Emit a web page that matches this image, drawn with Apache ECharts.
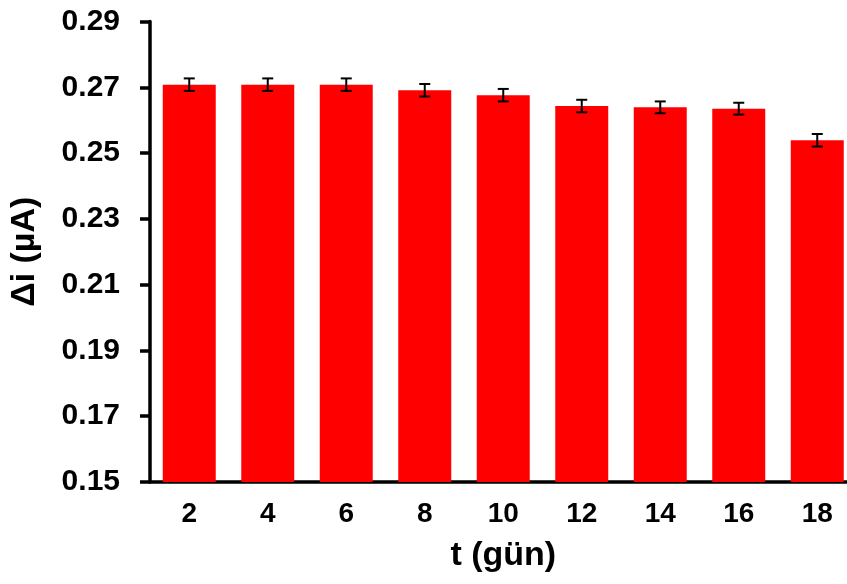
<!DOCTYPE html>
<html>
<head>
<meta charset="utf-8">
<script src="https://cdn.jsdelivr.net/npm/echarts@6/dist/echarts.min.js"></script>
<style>
  html, body { margin: 0; padding: 0; background: #fff; overflow: hidden; }
  /* plot area runs slightly past the right edge of the window */
  #chart { width: 860px; height: 584px; }
</style>
</head>
<body>
<div id="chart"></div>
<script>
// Storage time (days)
const days = ['2', '4', '6', '8', '10', '12', '14', '16', '18'];
// Peak current response Δi (µA)
const currents = [0.2708, 0.2708, 0.2708, 0.2691, 0.2676, 0.2643, 0.2639, 0.2635, 0.2539];
// Standard deviation for each day
const errors = [0.0019, 0.0019, 0.0019, 0.0019, 0.0019, 0.0019, 0.0018, 0.0018, 0.0019];
// Y axis range and step
const yMin = 0.15, yMax = 0.29, yStep = 0.02;

const FONT = '"Liberation Sans", Arial, sans-serif';

const chart = echarts.init(document.getElementById('chart'), null, { renderer: 'canvas' });

const errorData = days.map((d, i) => [i, currents[i] - errors[i], currents[i] + errors[i]]);

chart.setOption({
  animation: false,
  backgroundColor: '#ffffff',
  grid: { left: 150, top: 21.5, width: 706.5, height: 460.5, containLabel: false },
  xAxis: {
    type: 'category',
    data: days,
    name: 't (gün)',
    nameLocation: 'middle',
    nameGap: 57,
    nameTextStyle: { fontFamily: FONT, fontWeight: 'bold', fontSize: 34, color: '#000', verticalAlign: 'top' },
    axisLine: { lineStyle: { color: '#000', width: 3.5 } },
    axisTick: { show: false },
    axisLabel: { fontFamily: FONT, fontWeight: 'bold', fontSize: 28, color: '#000', margin: 18 },
    splitLine: { show: false }
  },
  yAxis: {
    type: 'value',
    min: yMin,
    max: yMax,
    interval: yStep,
    name: 'Δi (µA)',
    nameLocation: 'middle',
    nameGap: 108,
    nameTextStyle: { fontFamily: FONT, fontWeight: 'bold', fontSize: 34, color: '#000' },
    axisLine: { show: true, lineStyle: { color: '#000', width: 3.5 } },
    axisTick: { show: true, length: 10, inside: false, lineStyle: { color: '#000', width: 3.5 } },
    axisLabel: {
      fontFamily: FONT, fontWeight: 'bold', fontSize: 30, color: '#000', margin: 30,
      formatter: v => v.toFixed(2)
    },
    splitLine: { show: false }
  },
  series: [
    {
      type: 'bar',
      data: currents,
      barWidth: '67.5%',
      itemStyle: { color: '#ff0000' },
      z: 2
    },
    {
      type: 'custom',
      data: errorData,
      z: 5,
      renderItem: function (params, api) {
        const x = api.value(0);
        const lo = api.coord([x, api.value(1)]);
        const hi = api.coord([x, api.value(2)]);
        const half = 5.5;
        const style = { stroke: '#000', lineWidth: 2, fill: null };
        return {
          type: 'group',
          children: [
            { type: 'line', shape: { x1: hi[0], y1: hi[1], x2: lo[0], y2: lo[1] }, style: style },
            { type: 'line', shape: { x1: hi[0] - half, y1: hi[1], x2: hi[0] + half, y2: hi[1] }, style: style },
            { type: 'line', shape: { x1: lo[0] - half, y1: lo[1], x2: lo[0] + half, y2: lo[1] }, style: style }
          ]
        };
      }
    }
  ]
});
</script>
</body>
</html>
